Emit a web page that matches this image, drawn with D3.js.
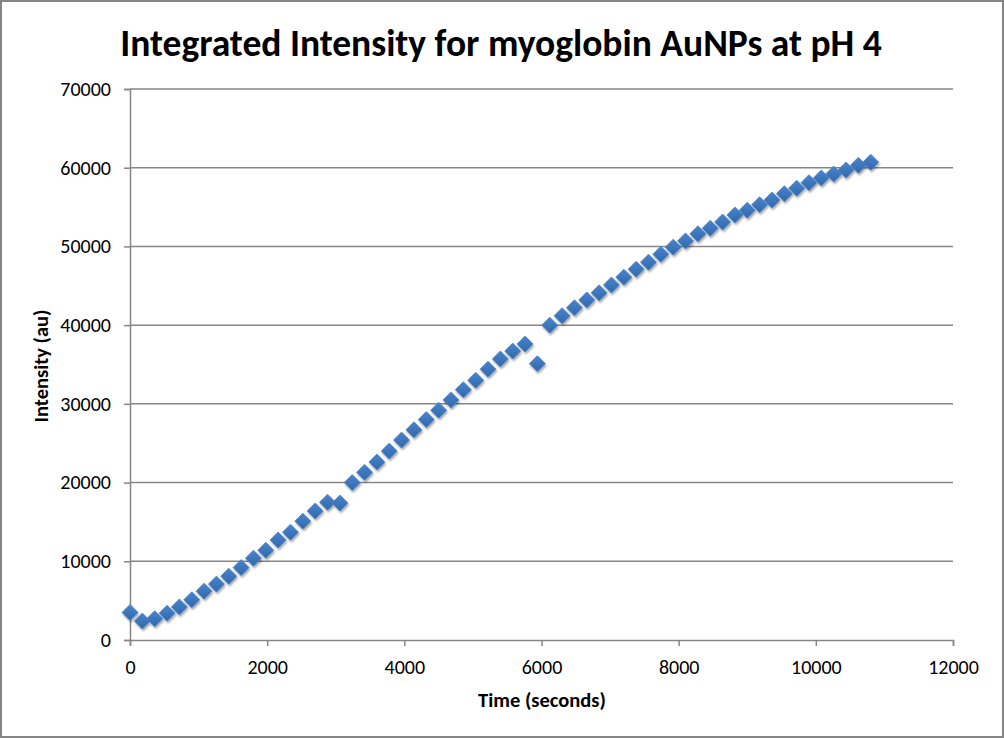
<!DOCTYPE html>
<html><head><meta charset="utf-8">
<script src="https://cdn.jsdelivr.net/npm/d3@7"></script>
<style>
html,body{margin:0;padding:0;background:#fff;}
svg{display:block;}
</style></head>
<body>
<script>
const times = [0,180,360,540,720,900,1080,1260,1440,1620,1800,1980,2160,2340,2520,2700,2880,3060,3240,3420,3600,3780,3960,4140,4320,4500,4680,4860,5040,5220,5400,5580,5760,5940,6120,6300,6480,6660,6840,7020,7200,7380,7560,7740,7920,8100,8280,8460,8640,8820,9000,9180,9360,9540,9720,9900,10080,10260,10440,10620,10800];
const intensity = [3500,2400,2700,3400,4200,5100,6200,7100,8100,9200,10400,11400,12700,13700,15100,16400,17500,17400,20000,21300,22600,24000,25400,26700,28000,29200,30500,31800,33000,34400,35700,36700,37600,35100,40000,41200,42200,43200,44100,45100,46100,47100,48000,49000,49900,50700,51600,52300,53100,54000,54600,55300,55900,56700,57400,58100,58700,59200,59700,60300,60700];
const xTicks = [0,2000,4000,6000,8000,10000,12000];
const yTicks = [0,10000,20000,30000,40000,50000,60000,70000];
const title = "Integrated Intensity for myoglobin AuNPs at pH 4";
const xTitle = "Time (seconds)";
const yTitle = "Intensity (au)";

const W = 1004, H = 738;
const m = {left:130, right:51, top:89, bottom:98};
const svg = d3.select("body").append("svg").attr("width", W).attr("height", H);
const defs = svg.append("defs");
const grad = defs.append("linearGradient").attr("id","mg").attr("x1","0").attr("y1","0").attr("x2","0").attr("y2","1");
grad.append("stop").attr("offset","0%").attr("stop-color","#4a84cc");
grad.append("stop").attr("offset","100%").attr("stop-color","#2f68ad");
const f = defs.append("filter").attr("id","sh").attr("x","-50%").attr("y","-50%").attr("width","200%").attr("height","200%");
f.append("feDropShadow").attr("dx",1).attr("dy",2).attr("stdDeviation",1.2).attr("flood-color","#000").attr("flood-opacity",0.35);

svg.append("rect").attr("x",1).attr("y",1).attr("width",W-2).attr("height",H-2)
  .attr("fill","#fff").attr("stroke","#868686").attr("stroke-width",2);

const x = d3.scaleLinear().domain([0,12000]).range([m.left, W-m.right]);
const y = d3.scaleLinear().domain([0,70000]).range([H-m.bottom, m.top]);
const font = "Carlito, 'Liberation Sans Narrow', 'DejaVu Sans Condensed', sans-serif";

// gridlines
svg.append("g").selectAll("line").data(yTicks.slice(1)).join("line")
  .attr("x1", x(0)).attr("x2", x(12000)).attr("y1", d=>y(d)).attr("y2", d=>y(d))
  .attr("stroke","#868686").attr("stroke-width",1.5);

// axes
const yAxis = svg.append("g").attr("transform",`translate(${x(0)},0)`)
  .call(d3.axisLeft(y).tickValues(yTicks).tickSize(6).tickPadding(13).tickFormat(d3.format("d")));
const xAxis = svg.append("g").attr("transform",`translate(0,${y(0)})`)
  .call(d3.axisBottom(x).tickValues(xTicks).tickSize(6).tickPadding(14).tickFormat(d3.format("d")));
[xAxis,yAxis].forEach(g=>{
  g.selectAll("path,line").attr("stroke","#868686").attr("stroke-width",1.5);
  g.selectAll("text").attr("font-family",font).attr("font-size",20).attr("fill","#000");
});

// markers
const s = 8;
svg.append("g").attr("filter","url(#sh)").selectAll("path").data(times.map((t,i)=>[t,intensity[i]])).join("path")
  .attr("d", d=>`M${x(d[0])},${y(d[1])-s}L${x(d[0])+s},${y(d[1])}L${x(d[0])},${y(d[1])+s}L${x(d[0])-s},${y(d[1])}Z`)
  .attr("fill","url(#mg)").attr("stroke","#4f81bd").attr("stroke-width",0.8);

// titles
svg.append("text").attr("x",501).attr("y",56).attr("text-anchor","middle")
  .attr("font-family",font).attr("font-weight","bold").attr("font-size",37.5).text(title);
svg.append("text").attr("x",542).attr("y",707).attr("text-anchor","middle")
  .attr("font-family",font).attr("font-weight","bold").attr("font-size",20.5).text(xTitle);
svg.append("text").attr("transform","translate(48,366) rotate(-90)").attr("text-anchor","middle")
  .attr("font-family",font).attr("font-weight","bold").attr("font-size",20.5).text(yTitle);
</script>
</body></html>
